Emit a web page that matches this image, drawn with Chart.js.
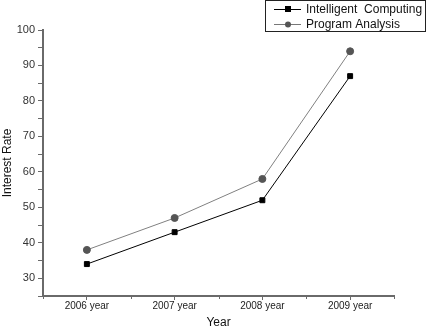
<!DOCTYPE html>
<html>
<head>
<meta charset="utf-8">
<script src="https://cdn.jsdelivr.net/npm/chart.js@4.4.0/dist/chart.umd.min.js"></script>
<style>
  html, body { margin: 0; padding: 0; background: #fff; }
  #wrap { width: 428px; height: 328px; }
</style>
</head>
<body>
<div id="wrap"><canvas id="rate"></canvas></div>
<script>
// chart values
const years = ['2006 year', '2007 year', '2008 year', '2009 year']
const intelligentComputing = [34, 43, 52, 87]
const programAnalysis = [38, 47, 58, 94]
const seriesNames = ['Intelligent  Computing', 'Program Analysis']

const axisColor = '#6a6a6a'
const fontFamily = 'Arial, "Liberation Sans", sans-serif'

// minor ticks between the categories (x) and the legend box
const extras = {
  id: 'extras',
  afterDraw(chart) {
    const ctx = chart.ctx
    const x = chart.scales.x
    const area = chart.chartArea
    ctx.save()
    ctx.strokeStyle = axisColor
    ctx.lineWidth = 1
    for (let i = 0; i <= years.length; i++) {
      const px = Math.round(x.getPixelForValue(i - 0.5)) + 0.5
      ctx.beginPath()
      ctx.moveTo(px, area.bottom)
      ctx.lineTo(px, area.bottom + 3)
      ctx.stroke()
    }

    // legend
    const bx = 265.5, by = 0.5, bw = 160, bh = 31
    ctx.strokeStyle = '#222'
    ctx.strokeRect(bx, by, bw, bh)
    const rows = [
      { y: 9, color: '#000', line: '#000', style: 'rect' },
      { y: 24, color: '#555', line: '#777', style: 'circle' }
    ]
    ctx.font = '12px ' + fontFamily
    ctx.textBaseline = 'middle'
    rows.forEach((r, i) => {
      ctx.strokeStyle = r.line
      ctx.beginPath()
      ctx.moveTo(274, r.y + 0.5)
      ctx.lineTo(301, r.y + 0.5)
      ctx.stroke()
      ctx.fillStyle = r.color
      if (r.style === 'rect') {
        ctx.fillRect(285, r.y - 3, 6, 6)
      } else {
        ctx.beginPath()
        ctx.arc(288, r.y + 0.5, 3, 0, Math.PI * 2)
        ctx.fill()
      }
      ctx.fillStyle = '#111'
      ctx.fillText(seriesNames[i], 306, r.y + 1)
    })
    ctx.restore()
  }
}

const data = {
  labels: years,
  datasets: [{
    label: seriesNames[0],
    data: intelligentComputing,
    borderColor: '#000',
    backgroundColor: '#000',
    borderWidth: 1,
    pointStyle: 'rect',
    pointRadius: 3.5,
    pointHoverRadius: 3.5,
    tension: 0
  }, {
    label: seriesNames[1],
    data: programAnalysis,
    borderColor: '#808080',
    backgroundColor: '#555',
    pointBorderColor: '#555',
    borderWidth: 1,
    pointStyle: 'circle',
    pointRadius: 3.5,
    pointHoverRadius: 3.5,
    tension: 0
  }]
}

const config = {
  type: 'line',
  data: data,
  options: {
    responsive: true,
    maintainAspectRatio: false,
    animation: false,
    layout: { padding: { top: 30, right: 34, left: 0, bottom: 0 } },
    plugins: { legend: { display: false }, tooltip: { enabled: false } },
    scales: {
      x: {
        type: 'category',
        offset: true,
        grid: { offset: false, drawOnChartArea: false, drawTicks: true, tickLength: 4, color: axisColor },
        border: { display: true, color: axisColor, width: 2 },
        ticks: { color: '#222', font: { family: fontFamily, size: 10 }, padding: 0, maxRotation: 0 },
        title: { display: true, text: 'Year', color: '#111', font: { family: fontFamily, size: 12 }, padding: { top: 0, bottom: -2 } },
        afterFit(scale) { scale.height = 32 }
      },
      y: {
        min: 25,
        max: 100,
        grid: { drawOnChartArea: false, drawTicks: true, tickLength: 5, color: axisColor },
        border: { display: true, color: axisColor, width: 2 },
        ticks: {
          stepSize: 5,
          autoSkip: false,
          color: '#333',
          font: { family: fontFamily, size: 11 },
          padding: 3,
          callback: v => (v % 10 === 0 ? v : '')
        },
        title: { display: true, text: 'Interest Rate', color: '#111', font: { family: fontFamily, size: 12 }, padding: { top: 0, bottom: 4 } },
        afterFit(scale) { scale.width = 43 }
      }
    }
  },
  plugins: [extras]
}

const rateChart = new Chart(document.getElementById('rate'), config)
</script>
</body>
</html>
